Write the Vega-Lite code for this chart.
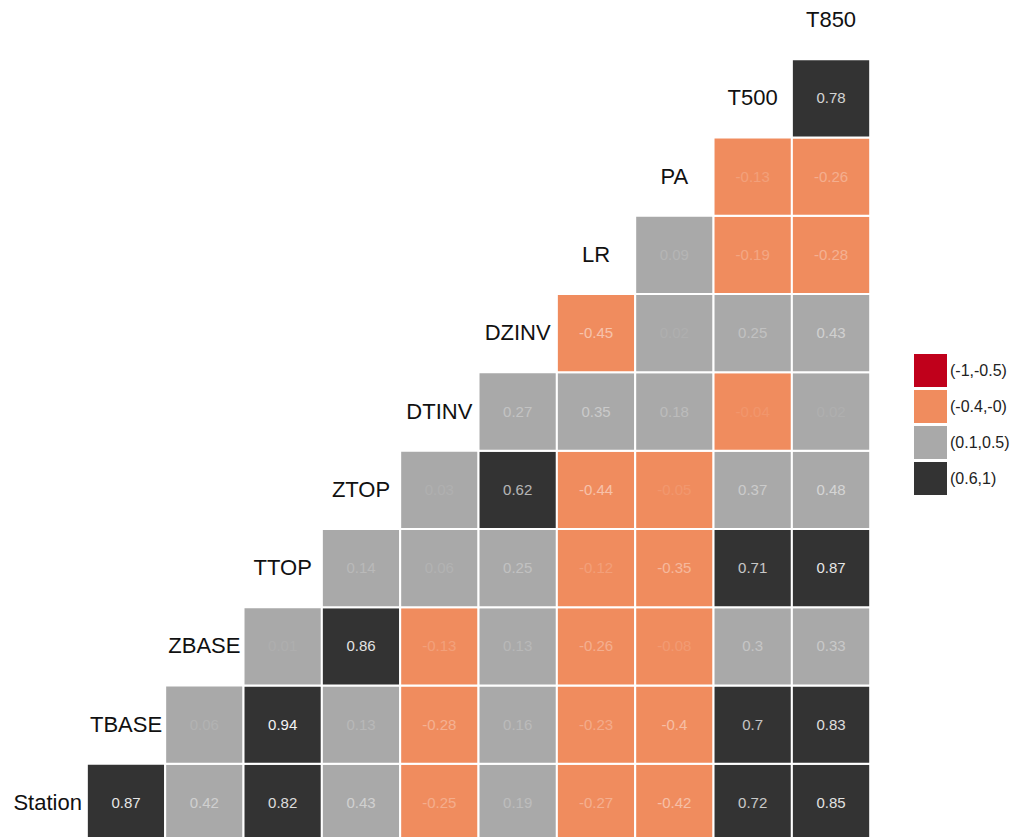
{
  "$schema": "https://vega.github.io/schema/vega-lite/v6.json",
  "width": 1025,
  "height": 837,
  "autosize": {"type": "none"},
  "padding": 0,
  "background": "white",
  "config": {"view": {"stroke": null}, "font": "Liberation Sans"},
  "datasets": {
    "cells": [
      {"row": "Station", "col": "TBASE", "r": 0.87, "cls": "(0.6,1)"},
      {"row": "Station", "col": "ZBASE", "r": 0.42, "cls": "(0.1,0.5)"},
      {"row": "Station", "col": "TTOP", "r": 0.82, "cls": "(0.6,1)"},
      {"row": "Station", "col": "ZTOP", "r": 0.43, "cls": "(0.1,0.5)"},
      {"row": "Station", "col": "DTINV", "r": -0.25, "cls": "(-0.4,-0)"},
      {"row": "Station", "col": "DZINV", "r": 0.19, "cls": "(0.1,0.5)"},
      {"row": "Station", "col": "LR", "r": -0.27, "cls": "(-0.4,-0)"},
      {"row": "Station", "col": "PA", "r": -0.42, "cls": "(-0.4,-0)"},
      {"row": "Station", "col": "T500", "r": 0.72, "cls": "(0.6,1)"},
      {"row": "Station", "col": "T850", "r": 0.85, "cls": "(0.6,1)"},
      {"row": "TBASE", "col": "ZBASE", "r": 0.06, "cls": "(0.1,0.5)"},
      {"row": "TBASE", "col": "TTOP", "r": 0.94, "cls": "(0.6,1)"},
      {"row": "TBASE", "col": "ZTOP", "r": 0.13, "cls": "(0.1,0.5)"},
      {"row": "TBASE", "col": "DTINV", "r": -0.28, "cls": "(-0.4,-0)"},
      {"row": "TBASE", "col": "DZINV", "r": 0.16, "cls": "(0.1,0.5)"},
      {"row": "TBASE", "col": "LR", "r": -0.23, "cls": "(-0.4,-0)"},
      {"row": "TBASE", "col": "PA", "r": -0.4, "cls": "(-0.4,-0)"},
      {"row": "TBASE", "col": "T500", "r": 0.7, "cls": "(0.6,1)"},
      {"row": "TBASE", "col": "T850", "r": 0.83, "cls": "(0.6,1)"},
      {"row": "ZBASE", "col": "TTOP", "r": 0.01, "cls": "(0.1,0.5)"},
      {"row": "ZBASE", "col": "ZTOP", "r": 0.86, "cls": "(0.6,1)"},
      {"row": "ZBASE", "col": "DTINV", "r": -0.13, "cls": "(-0.4,-0)"},
      {"row": "ZBASE", "col": "DZINV", "r": 0.13, "cls": "(0.1,0.5)"},
      {"row": "ZBASE", "col": "LR", "r": -0.26, "cls": "(-0.4,-0)"},
      {"row": "ZBASE", "col": "PA", "r": -0.08, "cls": "(-0.4,-0)"},
      {"row": "ZBASE", "col": "T500", "r": 0.3, "cls": "(0.1,0.5)"},
      {"row": "ZBASE", "col": "T850", "r": 0.33, "cls": "(0.1,0.5)"},
      {"row": "TTOP", "col": "ZTOP", "r": 0.14, "cls": "(0.1,0.5)"},
      {"row": "TTOP", "col": "DTINV", "r": 0.06, "cls": "(0.1,0.5)"},
      {"row": "TTOP", "col": "DZINV", "r": 0.25, "cls": "(0.1,0.5)"},
      {"row": "TTOP", "col": "LR", "r": -0.12, "cls": "(-0.4,-0)"},
      {"row": "TTOP", "col": "PA", "r": -0.35, "cls": "(-0.4,-0)"},
      {"row": "TTOP", "col": "T500", "r": 0.71, "cls": "(0.6,1)"},
      {"row": "TTOP", "col": "T850", "r": 0.87, "cls": "(0.6,1)"},
      {"row": "ZTOP", "col": "DTINV", "r": 0.03, "cls": "(0.1,0.5)"},
      {"row": "ZTOP", "col": "DZINV", "r": 0.62, "cls": "(0.6,1)"},
      {"row": "ZTOP", "col": "LR", "r": -0.44, "cls": "(-0.4,-0)"},
      {"row": "ZTOP", "col": "PA", "r": -0.05, "cls": "(-0.4,-0)"},
      {"row": "ZTOP", "col": "T500", "r": 0.37, "cls": "(0.1,0.5)"},
      {"row": "ZTOP", "col": "T850", "r": 0.48, "cls": "(0.1,0.5)"},
      {"row": "DTINV", "col": "DZINV", "r": 0.27, "cls": "(0.1,0.5)"},
      {"row": "DTINV", "col": "LR", "r": 0.35, "cls": "(0.1,0.5)"},
      {"row": "DTINV", "col": "PA", "r": 0.18, "cls": "(0.1,0.5)"},
      {"row": "DTINV", "col": "T500", "r": -0.04, "cls": "(-0.4,-0)"},
      {"row": "DTINV", "col": "T850", "r": 0.02, "cls": "(0.1,0.5)"},
      {"row": "DZINV", "col": "LR", "r": -0.45, "cls": "(-0.4,-0)"},
      {"row": "DZINV", "col": "PA", "r": 0.02, "cls": "(0.1,0.5)"},
      {"row": "DZINV", "col": "T500", "r": 0.25, "cls": "(0.1,0.5)"},
      {"row": "DZINV", "col": "T850", "r": 0.43, "cls": "(0.1,0.5)"},
      {"row": "LR", "col": "PA", "r": 0.09, "cls": "(0.1,0.5)"},
      {"row": "LR", "col": "T500", "r": -0.19, "cls": "(-0.4,-0)"},
      {"row": "LR", "col": "T850", "r": -0.28, "cls": "(-0.4,-0)"},
      {"row": "PA", "col": "T500", "r": -0.13, "cls": "(-0.4,-0)"},
      {"row": "PA", "col": "T850", "r": -0.26, "cls": "(-0.4,-0)"},
      {"row": "T500", "col": "T850", "r": 0.78, "cls": "(0.6,1)"}
    ],
    "labels": [
      {"v": "Station"}, {"v": "TBASE"}, {"v": "ZBASE"}, {"v": "TTOP"},
      {"v": "ZTOP"}, {"v": "DTINV"}, {"v": "DZINV"}, {"v": "LR"},
      {"v": "PA"}, {"v": "T500"}, {"v": "T850"}
    ]
  },
  "layer": [
    {
      "data": {"name": "cells"},
      "mark": {"type": "rect", "stroke": "white", "strokeWidth": 2},
      "encoding": {
        "x": {"field": "col", "type": "nominal", "axis": null,
              "scale": {"domain": ["Station","TBASE","ZBASE","TTOP","ZTOP","DTINV","DZINV","LR","PA","T500","T850"], "range": [8.5, 870.2], "paddingInner": 0, "paddingOuter": 0}},
        "y": {"field": "row", "type": "nominal", "axis": null,
              "scale": {"domain": ["T850","T500","PA","LR","DZINV","DTINV","ZTOP","TTOP","ZBASE","TBASE","Station"], "range": [-18.9, 841.9], "paddingInner": 0, "paddingOuter": 0}},
        "color": {"field": "cls", "type": "nominal",
                  "scale": {"domain": ["(-1,-0.5)", "(-0.4,-0)", "(0.1,0.5)", "(0.6,1)"], "range": ["#c0001b", "#f08c5e", "#a9a9a9", "#333333"]},
                  "legend": {"title": null, "orient": "none", "legendX": 914, "legendY": 354, "padding": 0,
                             "symbolType": "square", "symbolSize": 1089, "symbolStrokeWidth": 0, "symbolOpacity": 1,
                             "rowPadding": 3, "labelOffset": 3, "labelFontSize": 16, "labelColor": "#222222", "labelFont": "Liberation Sans"}}
      }
    },
    {
      "data": {"name": "cells"},
      "mark": {"type": "text", "fontSize": 15, "color": "white", "align": "center", "baseline": "middle"},
      "encoding": {
        "x": {"field": "col", "type": "nominal"},
        "y": {"field": "row", "type": "nominal"},
        "text": {"field": "r", "type": "nominal"},
        "opacity": {"field": "r", "type": "quantitative", "legend": null,
                    "scale": {"type": "linear", "domain": [-1, 0, 1], "range": [1, 0.05, 1]}}
      }
    },
    {
      "data": {"name": "labels"},
      "mark": {"type": "text", "fontSize": 22, "color": "#111111", "align": "center", "baseline": "middle"},
      "encoding": {
        "x": {"field": "v", "type": "nominal"},
        "y": {"field": "v", "type": "nominal"},
        "text": {"field": "v", "type": "nominal"}
      }
    }
  ]
}
